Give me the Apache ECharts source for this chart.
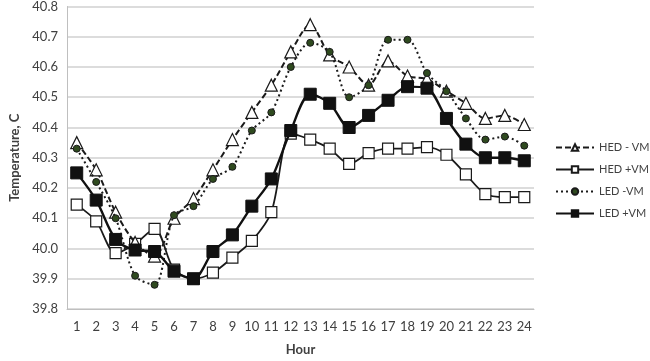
<!DOCTYPE html>
<html><head><meta charset="utf-8">
<script src="https://cdn.jsdelivr.net/npm/echarts@6/dist/echarts.min.js"></script>
<style>html,body{margin:0;padding:0;background:#fff}#c{width:650px;height:361px}</style>
</head><body><div id="c"></div>
<script>
const hours = ['1','2','3','4','5','6','7','8','9','10','11','12','13','14','15','16','17','18','19','20','21','22','23','24'];
const hedMinusVM = [40.35,40.26,40.12,40.02,39.975,40.10,40.165,40.26,40.36,40.45,40.54,40.65,40.74,40.64,40.60,40.54,40.62,40.57,40.56,40.52,40.48,40.43,40.44,40.41];
const hedPlusVM = [40.145,40.09,39.985,40.015,40.065,39.93,39.90,39.92,39.97,40.025,40.12,40.38,40.36,40.33,40.28,40.315,40.33,40.33,40.335,40.31,40.245,40.18,40.17,40.17];
const ledMinusVM = [40.33,40.22,40.10,39.91,39.88,40.11,40.14,40.23,40.27,40.39,40.45,40.60,40.68,40.65,40.50,40.54,40.69,40.69,40.58,40.52,40.43,40.36,40.37,40.34];
const ledPlusVM = [40.25,40.16,40.03,39.995,39.99,39.925,39.90,39.99,40.045,40.14,40.23,40.39,40.51,40.48,40.40,40.44,40.49,40.535,40.53,40.43,40.345,40.30,40.30,40.29];
const yTicks = {min:39.8, max:40.8, interval:0.1};

const font = 'Lato, "Open Sans", sans-serif';
const chart = echarts.init(document.getElementById('c'));
chart.setOption({
  animation:false,
  textStyle:{fontFamily:font},
  grid:{left:54, top:4, width:480, height:314, containLabel:false},
  legend:{
    orient:'vertical', left:555, top:142, padding:0, itemWidth:38, itemHeight:8, itemGap:11,
    textStyle:{fontFamily:font, fontSize:11, color:'#404040'},
    data:['HED - VM','HED +VM','LED -VM','LED +VM']
  },
  xAxis:{
    type:'category', data:hours, boundaryGap:true,
    name:'Hour', nameLocation:'middle', nameGap:34,
    nameTextStyle:{fontFamily:font, fontSize:13, fontWeight:'bold', color:'#404040'},
    axisLine:{lineStyle:{color:'#bfbfbf'}}, axisTick:{show:false},
    axisLabel:{fontSize:13, color:'#404040', margin:11, interval:0}
  },
  yAxis:{
    type:'value', min:yTicks.min, max:yTicks.max, interval:yTicks.interval,
    name:'Temperature, C', nameLocation:'middle', nameGap:46, nameRotate:90,
    nameTextStyle:{fontFamily:font, fontSize:13, fontWeight:'bold', color:'#404040'},
    axisLine:{show:true, lineStyle:{color:'#bfbfbf'}}, axisTick:{show:false},
    axisLabel:{fontSize:13, color:'#404040', margin:9, formatter:v=>v.toFixed(1)},
    splitLine:{lineStyle:{color:'#d0d0d0', width:1.5}}
  },
  series:[
    {name:'HED - VM', type:'line', data:hedMinusVM, smooth:0.3, symbol:'triangle', symbolSize:12,
     lineStyle:{color:'#1a1a1a', width:2, type:[6,3]},
     itemStyle:{color:'#fff', borderColor:'#1a1a1a', borderWidth:1.2}, z:3},
    {name:'HED +VM', type:'line', data:hedPlusVM, smooth:0.3, symbol:'rect', symbolSize:11,
     lineStyle:{color:'#1a1a1a', width:1.8},
     itemStyle:{color:'#fff', borderColor:'#1a1a1a', borderWidth:1.2}, z:2},
    {name:'LED -VM', type:'line', data:ledMinusVM, smooth:0.3, symbol:'circle', symbolSize:7,
     lineStyle:{color:'#1a1a1a', width:2, type:[2,3]},
     itemStyle:{color:'#2f4a1f', borderColor:'#1a1a1a', borderWidth:1}, z:4},
    {name:'LED +VM', type:'line', data:ledPlusVM, smooth:0.3, symbol:'rect', symbolSize:12,
     lineStyle:{color:'#111', width:2.4},
     itemStyle:{color:'#111', borderColor:'#111', borderWidth:1}, z:5}
  ]
});
</script></body></html>
